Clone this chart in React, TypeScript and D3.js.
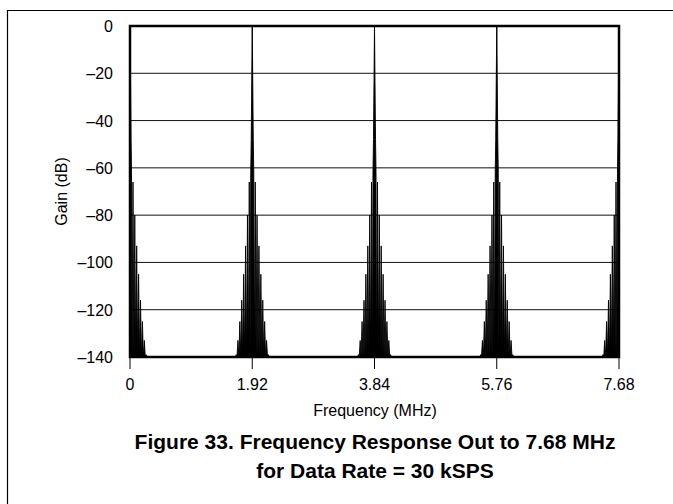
import React from "react";
import * as d3 from "d3";

// ---- data ----
const xTicks = [0, 1.92, 3.84, 5.76, 7.68];
const xTickLabels = ["0", "1.92", "3.84", "5.76", "7.68"];
const yTicks = [0, -20, -40, -60, -80, -100, -120, -140];
const yTickLabels = ["0", "–20", "–40", "–60", "–80", "–100", "–120", "–140"];
// response peaks (MHz) at multiples of the modulator rate
const peakCenters = [0, 1.92, 3.84, 5.76, 7.68];
// main lobe shape (offset from peak in MHz, gain in dB)
const mainLobeOffsets = [0, 0.008, 0.016, 0.024];
const mainLobeGains = [0, -24, -48, -62];
// side lobes: peak offsets and gains, and notch offsets between them
const sideLobeOffsets = [0.047, 0.075, 0.105, 0.135, 0.165, 0.195, 0.225, 0.252];
const sideLobeGains = [-66, -80, -93, -105, -116, -125, -133, -139];
const notchOffsets = [0.032, 0.06, 0.09, 0.12, 0.15, 0.18, 0.21, 0.24, 0.265];
const floorGain = -140;

const W = 673;
const H = 504;
const L = 130, R = 619, T = 26, B = 357;

export default function App() {
  const x = d3.scaleLinear().domain([0, 7.68]).range([L, R]);
  const y = d3.scaleLinear().domain([-140, 0]).range([B, T]);

  // build the response curve from the read values
  const pts: [number, number][] = [];
  pts.push([0, floorGain]);
  peakCenters.forEach((c) => {
    const n = sideLobeOffsets.length;
    pts.push([c - notchOffsets[n], floorGain]);
    for (let k = n - 1; k >= 0; k--) {
      pts.push([c - sideLobeOffsets[k], sideLobeGains[k]]);
      pts.push([c - notchOffsets[k], floorGain]);
    }
    for (let k = mainLobeOffsets.length - 1; k >= 1; k--) {
      pts.push([c - mainLobeOffsets[k], mainLobeGains[k]]);
    }
    pts.push([c, mainLobeGains[0]]);
    for (let k = 1; k < mainLobeOffsets.length; k++) {
      pts.push([c + mainLobeOffsets[k], mainLobeGains[k]]);
    }
    for (let k = 0; k < n; k++) {
      pts.push([c + notchOffsets[k], floorGain]);
      pts.push([c + sideLobeOffsets[k], sideLobeGains[k]]);
    }
    pts.push([c + notchOffsets[n], floorGain]);
  });
  pts.push([7.68, floorGain]);

  const line = d3
    .line<[number, number]>()
    .x((d) => x(d[0]))
    .y((d) => y(d[1]));

  const font = "'Liberation Sans', Arial, Helvetica, sans-serif";

  return (
    <svg
      width={W}
      height={H}
      style={{ position: "absolute", left: 0, top: 0, background: "#fff" }}
    >
      <rect x={0} y={0} width={W} height={H} fill="#fff" />
      {/* page frame */}
      <line x1={7} x2={W} y1={10.5} y2={10.5} stroke="#000" strokeWidth={1.2} />
      <line x1={7.5} x2={7.5} y1={10} y2={H} stroke="#000" strokeWidth={1.2} />

      {/* grid */}
      {yTicks.slice(1, -1).map((t) => (
        <line key={"gy" + t} x1={L} x2={R} y1={y(t)} y2={y(t)} stroke="#111" strokeWidth={1} />
      ))}
      {xTicks.slice(1, -1).map((t) => (
        <line key={"gx" + t} x1={x(t)} x2={x(t)} y1={T} y2={B} stroke="#777" strokeWidth={1} />
      ))}

      <defs>
        <clipPath id="plotclip">
          <rect x={L} y={T} width={R - L} height={B - T} />
        </clipPath>
      </defs>
      <path
        d={line(pts) || ""}
        fill="#000"
        stroke="#000"
        strokeWidth={0.9}
        clipPath="url(#plotclip)"
      />

      {/* plot border */}
      <rect x={L} y={T} width={R - L} height={B - T} fill="none" stroke="#000" strokeWidth={2.5} />

      {/* x ticks */}
      {xTicks.map((t) => (
        <line key={"tx" + t} x1={x(t)} x2={x(t)} y1={B} y2={B + 12} stroke="#000" strokeWidth={1} />
      ))}
      {xTicks.map((t, i) => (
        <text
          key={"lx" + t}
          x={x(t)}
          y={390}
          textAnchor="middle"
          fontFamily={font}
          fontSize={16}
          fill="#000"
        >
          {xTickLabels[i]}
        </text>
      ))}
      {yTicks.map((t, i) => (
        <text
          key={"ly" + t}
          x={113}
          y={y(t) + 6}
          textAnchor="end"
          fontFamily={font}
          fontSize={16}
          fill="#000"
        >
          {yTickLabels[i]}
        </text>
      ))}

      <text
        transform={`translate(67,${(T + B) / 2}) rotate(-90)`}
        textAnchor="middle"
        fontFamily={font}
        fontSize={16}
        fill="#000"
      >
        Gain (dB)
      </text>
      <text x={375} y={416} textAnchor="middle" fontFamily={font} fontSize={16} fill="#000">
        Frequency (MHz)
      </text>
      <text
        x={375}
        y={449}
        textAnchor="middle"
        fontFamily={font}
        fontSize={21}
        fontWeight="bold"
        fill="#000"
      >
        Figure 33. Frequency Response Out to 7.68 MHz
      </text>
      <text
        x={375}
        y={478}
        textAnchor="middle"
        fontFamily={font}
        fontSize={21}
        fontWeight="bold"
        fill="#000"
      >
        for Data Rate = 30 kSPS
      </text>
    </svg>
  );
}
